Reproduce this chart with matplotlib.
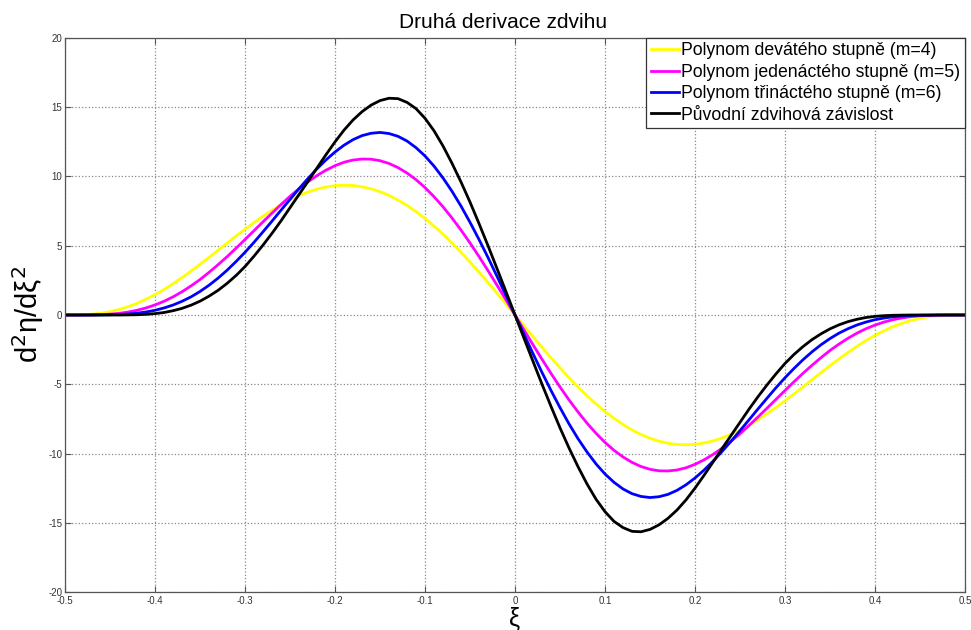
import matplotlib
matplotlib.use("Agg")
import matplotlib.pyplot as plt

plt.rcParams['font.family'] = ['Liberation Sans', 'DejaVu Sans']
plt.rcParams['axes.unicode_minus'] = False

# xi from -0.5 to 0.5, step 0.01
xi = [-0.50, -0.49, -0.48, -0.47, -0.46, -0.45, -0.44, -0.43, -0.42, -0.41,
      -0.40, -0.39, -0.38, -0.37, -0.36, -0.35, -0.34, -0.33, -0.32, -0.31,
      -0.30, -0.29, -0.28, -0.27, -0.26, -0.25, -0.24, -0.23, -0.22, -0.21,
      -0.20, -0.19, -0.18, -0.17, -0.16, -0.15, -0.14, -0.13, -0.12, -0.11,
      -0.10, -0.09, -0.08, -0.07, -0.06, -0.05, -0.04, -0.03, -0.02, -0.01,
      0.00,
      0.01, 0.02, 0.03, 0.04, 0.05, 0.06, 0.07, 0.08, 0.09, 0.10,
      0.11, 0.12, 0.13, 0.14, 0.15, 0.16, 0.17, 0.18, 0.19, 0.20,
      0.21, 0.22, 0.23, 0.24, 0.25, 0.26, 0.27, 0.28, 0.29, 0.30,
      0.31, 0.32, 0.33, 0.34, 0.35, 0.36, 0.37, 0.38, 0.39, 0.40,
      0.41, 0.42, 0.43, 0.44, 0.45, 0.46, 0.47, 0.48, 0.49, 0.50]

# polynom 9. stupne (m=4)
y_m4 = [0, 0.00, 0.02, 0.06, 0.13, 0.24, 0.40, 0.60, 0.84, 1.14,
        1.47, 1.84, 2.26, 2.70, 3.17, 3.66, 4.16, 4.67, 5.19, 5.70,
        6.19, 6.67, 7.13, 7.56, 7.95, 8.31, 8.62, 8.88, 9.09, 9.24,
        9.34, 9.37, 9.35, 9.26, 9.11, 8.90, 8.63, 8.30, 7.91, 7.46,
        6.97, 6.42, 5.83, 5.19, 4.52, 3.82, 3.09, 2.34, 1.57, 0.79,
        0,
        -0.79, -1.57, -2.34, -3.09, -3.82, -4.52, -5.19, -5.83, -6.42, -6.97,
        -7.46, -7.91, -8.30, -8.63, -8.90, -9.11, -9.26, -9.35, -9.37, -9.34,
        -9.24, -9.09, -8.88, -8.62, -8.31, -7.95, -7.56, -7.13, -6.67, -6.19,
        -5.70, -5.19, -4.67, -4.16, -3.66, -3.17, -2.70, -2.26, -1.84, -1.47,
        -1.14, -0.84, -0.60, -0.40, -0.24, -0.13, -0.06, -0.02, 0.00, 0]

# polynom 11. stupne (m=5)
y_m5 = [0, 0, 0, 0.01, 0.03, 0.06, 0.12, 0.21, 0.34, 0.51,
        0.73, 0.99, 1.31, 1.68, 2.10, 2.56, 3.08, 3.63, 4.21, 4.82,
        5.45, 6.09, 6.73, 7.36, 7.98, 8.57, 9.12, 9.62, 10.07, 10.46,
        10.78, 11.03, 11.19, 11.26, 11.25, 11.14, 10.94, 10.64, 10.25, 9.77,
        9.20, 8.54, 7.81, 7.00, 6.13, 5.20, 4.22, 3.20, 2.15, 1.08,
        0,
        -1.08, -2.15, -3.20, -4.22, -5.20, -6.13, -7.00, -7.81, -8.54, -9.20,
        -9.77, -10.25, -10.64, -10.94, -11.14, -11.25, -11.26, -11.19, -11.03, -10.78,
        -10.46, -10.07, -9.62, -9.12, -8.57, -7.98, -7.36, -6.73, -6.09, -5.45,
        -4.82, -4.21, -3.63, -3.08, -2.56, -2.10, -1.68, -1.31, -0.99, -0.73,
        -0.51, -0.34, -0.21, -0.12, -0.06, -0.03, -0.01, 0, 0, 0]

# polynom 13. stupne (m=6)
y_m6 = [0, 0, 0, 0, 0.01, 0.02, 0.04, 0.07, 0.13, 0.22,
        0.34, 0.51, 0.72, 0.99, 1.31, 1.70, 2.15, 2.66, 3.23, 3.86,
        4.53, 5.25, 6.01, 6.78, 7.57, 8.35, 9.12, 9.86, 10.56, 11.20,
        11.77, 12.26, 12.66, 12.95, 13.12, 13.18, 13.10, 12.90, 12.56, 12.08,
        11.48, 10.75, 9.89, 8.93, 7.86, 6.69, 5.45, 4.15, 2.79, 1.40,
        0,
        -1.40, -2.79, -4.15, -5.45, -6.69, -7.86, -8.93, -9.89, -10.75, -11.48,
        -12.08, -12.56, -12.90, -13.10, -13.18, -13.12, -12.95, -12.66, -12.26, -11.77,
        -11.20, -10.56, -9.86, -9.12, -8.35, -7.57, -6.78, -6.01, -5.25, -4.53,
        -3.86, -3.23, -2.66, -2.15, -1.70, -1.31, -0.99, -0.72, -0.51, -0.34,
        -0.22, -0.13, -0.07, -0.04, -0.02, -0.01, 0, 0, 0, 0]

# puvodni zdvihova zavislost
y_orig = [0, 0, 0, 0, 0, 0, 0, 0.01, 0.02, 0.05,
          0.10, 0.18, 0.31, 0.48, 0.71, 1.00, 1.36, 1.78, 2.28, 2.85,
          3.50, 4.25, 5.05, 5.90, 6.80, 7.75, 8.70, 9.65, 10.62, 11.58,
          12.50, 13.35, 14.08, 14.68, 15.15, 15.48, 15.65, 15.62, 15.35, 14.90,
          14.20, 13.30, 12.20, 10.95, 9.60, 8.15, 6.60, 5.00, 3.35, 1.68,
          0,
          -1.68, -3.35, -5.00, -6.60, -8.15, -9.60, -10.95, -12.20, -13.30, -14.20,
          -14.90, -15.35, -15.62, -15.65, -15.48, -15.15, -14.68, -14.08, -13.35, -12.50,
          -11.58, -10.62, -9.65, -8.70, -7.75, -6.80, -5.90, -5.05, -4.25, -3.50,
          -2.85, -2.28, -1.78, -1.36, -1.00, -0.71, -0.48, -0.31, -0.18, -0.10,
          -0.05, -0.02, -0.01, 0, 0, 0, 0, 0, 0, 0]

labels = ['Polynom devátého stupně (m=4)',
          'Polynom jedenáctého stupně (m=5)',
          'Polynom třináctého stupně (m=6)',
          'Původní zdvihová závislost']
colors = ['#ffff00', '#ff00ff', '#0000ff', '#000000']

xticks = [-0.5, -0.4, -0.3, -0.2, -0.1, 0, 0.1, 0.2, 0.3, 0.4, 0.5]
xticklabels = ['-0.5', '-0.4', '-0.3', '-0.2', '-0.1', '0', '0.1', '0.2', '0.3', '0.4', '0.5']
yticks = [-20, -15, -10, -5, 0, 5, 10, 15, 20]

fig = plt.figure(figsize=(9.71, 6.30), dpi=100)
ax = fig.add_axes([0.067, 0.0603, 0.9268, 0.8794])

for ys, c, lab in zip([y_m4, y_m5, y_m6, y_orig], colors, labels):
    ax.plot(xi, ys, color=c, lw=2.0, label=lab)

ax.set_xlim(-0.5, 0.5)
ax.set_ylim(-20, 20)
ax.set_xticks(xticks)
ax.set_xticklabels(xticklabels)
ax.set_yticks(yticks)
ax.tick_params(direction='in', length=4, labelsize=7, top=True, right=True,
               color='#555555', labelcolor='#333333', pad=2)
ax.tick_params(axis='x', pad=3)
ax.grid(True, linestyle=':', color='#888888', lw=0.9)
for s in ax.spines.values():
    s.set_color('#555555')
    s.set_linewidth(0.9)

ax.set_title('Druhá derivace zdvihu', fontsize=15, pad=7, x=0.487)
ax.set_xlabel('ξ', fontsize=18, labelpad=0)
ax.set_ylabel(r'd$^2$η/dξ$^2$', fontsize=21, labelpad=2)

leg = ax.legend(loc='upper right', fontsize=12.7, borderaxespad=0,
                fancybox=False, framealpha=1, edgecolor='#333333',
                handlelength=1.6, handletextpad=0.15, borderpad=0.25,
                labelspacing=0.25)
leg.get_frame().set_linewidth(0.9)

fig.savefig('out.png', dpi=100)
